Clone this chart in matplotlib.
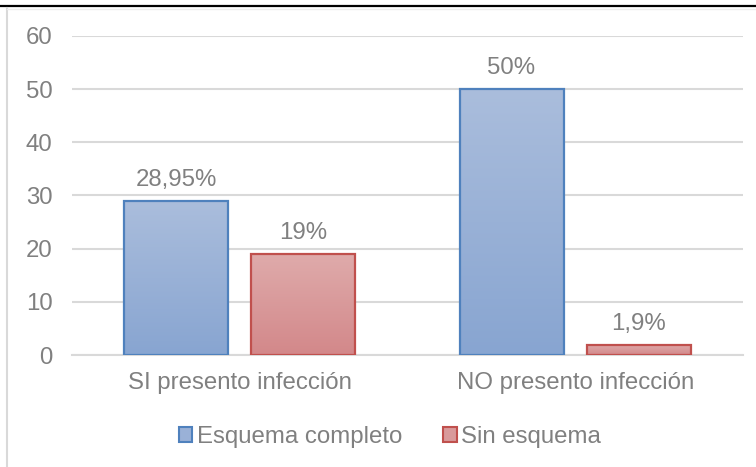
import numpy as np
import matplotlib.pyplot as plt
from matplotlib.patches import Patch
from matplotlib.lines import Line2D
from matplotlib.colors import LinearSegmentedColormap

plt.rcParams['font.family'] = ['Liberation Sans', 'DejaVu Sans']

categorias = ['SI presento infección', 'NO presento infección']
series = ['Esquema completo', 'Sin esquema']
completo = [28.95, 50]
sin_esquema = [19, 1.9]
etiquetas_completo = ['28,95%', '50%']
etiquetas_sin = ['19%', '1,9%']
yticks = [0, 10, 20, 30, 40, 50, 60]

gris = '#808080'
fs = 17.3
azul_top, azul_bot, azul_borde = '#AABDDC', '#88A5D1', '#4F81BD'
rojo_top, rojo_bot, rojo_borde = '#DFABAB', '#D3888A', '#C0504D'

fig = plt.figure(figsize=(7.56, 4.67), dpi=100)
ax = fig.add_axes([72 / 756, 112 / 467, 671 / 756, 319 / 467])

x = np.arange(len(categorias))
ancho = 0.31
desp = 0.19


def grad_bars(xpos, vals, top, bot, borde):
    bars = ax.bar(xpos, vals, ancho, facecolor='none', edgecolor=borde,
                  linewidth=1.6, zorder=3)
    cmap = LinearSegmentedColormap.from_list('g', [bot, top])
    grad = np.linspace(0, 1, 100).reshape(-1, 1)
    for b in bars:
        x0, y0 = b.get_x(), b.get_y()
        w, h = b.get_width(), b.get_height()
        im = ax.imshow(grad, cmap=cmap, origin='lower', aspect='auto',
                       extent=[x0, x0 + w, y0, y0 + h], zorder=2)
        im.set_clip_path(b)
    return bars


b1 = grad_bars(x - desp, completo, azul_top, azul_bot, azul_borde)
b2 = grad_bars(x + desp, sin_esquema, rojo_top, rojo_bot, rojo_borde)

for bars, labs in [(b1, etiquetas_completo), (b2, etiquetas_sin)]:
    for b, lab in zip(bars, labs):
        ax.annotate(lab, (b.get_x() + b.get_width() / 2, b.get_height()),
                    xytext=(0, 7), textcoords='offset points',
                    ha='center', va='bottom', fontsize=fs, color=gris)

ax.set_xlim(-0.5, 1.5)
ax.set_ylim(0, 60)
ax.set_yticks(yticks)
ax.set_xticks(x)
ax.set_xticklabels(categorias)
ax.tick_params(axis='both', length=0, labelsize=fs, labelcolor=gris)
ax.tick_params(axis='y', pad=14)
ax.tick_params(axis='x', pad=12)
ax.grid(axis='y', color='#D9D9D9', linewidth=1.5, zorder=0)
ax.set_axisbelow(True)
for s in ['top', 'right', 'left']:
    ax.spines[s].set_visible(False)
ax.spines['bottom'].set_color('#D9D9D9')
ax.spines['bottom'].set_linewidth(1.5)
ax.spines['bottom'].set_zorder(1)

handles = [Patch(facecolor='#9AB1D7', edgecolor=azul_borde, linewidth=1.5),
           Patch(facecolor='#D99A9B', edgecolor=rojo_borde, linewidth=1.5)]
fig.legend(handles, series, loc='center', bbox_to_anchor=(390 / 756, 1 - 437 / 467),
           ncol=2, frameon=False, fontsize=fs, labelcolor=gris,
           handlelength=0.55, handleheight=0.55, handletextpad=0.2,
           columnspacing=1.72)

# marco
fig.add_artist(Line2D([0, 1], [1 - 6 / 467] * 2, color='black', linewidth=1.6))
fig.add_artist(Line2D([7 / 756, 7 / 756], [0, 1 - 8 / 467], color='#D9D9D9', linewidth=1.5))
fig.add_artist(Line2D([7 / 756, 1], [1 - 9 / 467] * 2, color='#EDEDED', linewidth=1.0))

fig.savefig('out.png', dpi=100)
